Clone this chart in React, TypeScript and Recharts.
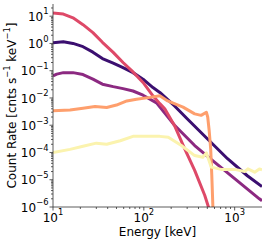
import React from 'react';
import { LineChart, Line, XAxis, YAxis } from 'recharts';

// energies (keV) and count rates, one pair of arrays per curve
const pinkEnergy = [10, 13, 16.6, 21.4, 27.5, 35, 46, 59, 76, 98, 126, 150, 170, 218, 282, 363, 468, 520, 560];
const pinkRate = [13, 12, 8.7, 4.9, 2.5, 1.1, 0.47, 0.2, 0.09, 0.037, 0.012, 0.0062, 0.004, 9.6e-4, 1.35e-4, 2.2e-5, 2.7e-6, 9e-7, 3e-7];

const darkEnergy = [10, 13, 16.6, 21.4, 27.5, 35, 46, 59, 76, 98, 126, 150, 218, 302, 500, 835, 1380, 2000];
const darkRate = [1.05, 1.15, 1.0, 0.76, 0.48, 0.28, 0.19, 0.13, 0.085, 0.049, 0.024, 0.016, 0.0051, 1.7e-3, 3.2e-4, 5.9e-5, 1.4e-5, 5.6e-6];

const purpleEnergy = [10, 11, 13, 16.6, 21.4, 27.5, 35, 46, 59, 76, 98, 138, 218, 363, 600, 1000, 1870, 2000];
const purpleRate = [0.064, 0.075, 0.085, 0.085, 0.072, 0.049, 0.032, 0.026, 0.022, 0.018, 0.0126, 0.0066, 1.0e-3, 1.8e-4, 4.4e-5, 1.1e-5, 2.0e-6, 1.7e-6];

const orangeEnergy = [10, 15.4, 21.4, 29, 39, 50, 65, 83, 117, 150, 183, 270, 363, 427, 488, 505, 525, 545, 560, 575, 590];
const orangeRate = [3.4e-3, 3.6e-3, 4.2e-3, 4.9e-3, 4.5e-3, 5.5e-3, 7.8e-3, 9e-3, 0.0105, 0.012, 7.8e-3, 4.6e-3, 2.6e-3, 2.3e-3, 3.0e-3, 2.0e-3, 6e-4, 1.3e-4, 1.5e-5, 1.2e-6, 1e-7];

const yellowEnergy = [10, 15.4, 21.4, 30, 39, 55, 76, 117, 150, 186, 259, 363, 446, 488, 553, 708, 1000, 1290, 1400, 1660, 1870, 2000];
const yellowRate = [1.0e-4, 1.3e-4, 1.7e-4, 2.2e-4, 2.0e-4, 2.7e-4, 3.9e-4, 3.9e-4, 3.9e-4, 3.6e-4, 1.8e-4, 7.7e-5, 6.7e-5, 9.7e-5, 2.9e-5, 2.4e-5, 2.4e-5, 2.0e-5, 2.5e-5, 1.9e-5, 2.5e-5, 2.3e-5];

const xTicks = [10, 20, 30, 40, 50, 60, 70, 80, 90, 100, 200, 300, 400, 500, 600, 700, 800, 900, 1000];
const yTicks = [
  1e-6, 2e-6, 3e-6, 4e-6, 5e-6, 6e-6, 7e-6, 8e-6, 9e-6,
  1e-5, 2e-5, 3e-5, 4e-5, 5e-5, 6e-5, 7e-5, 8e-5, 9e-5,
  1e-4, 2e-4, 3e-4, 4e-4, 5e-4, 6e-4, 7e-4, 8e-4, 9e-4,
  1e-3, 2e-3, 3e-3, 4e-3, 5e-3, 6e-3, 7e-3, 8e-3, 9e-3,
  0.01, 0.02, 0.03, 0.04, 0.05, 0.06, 0.07, 0.08, 0.09,
  0.1, 0.2, 0.3, 0.4, 0.5, 0.6, 0.7, 0.8, 0.9,
  1, 2, 3, 4, 5, 6, 7, 8, 9, 10, 20,
];

const toRows = (e: number[], r: number[]) => e.map((x, i) => ({ energy: x, rate: r[i] }));

const FONT = 'DejaVu Sans';
const AXIS = '#333';

const expOf = (v: number) => Math.round(Math.log10(v));
const isMajor = (v: number) => Math.abs(Math.log10(v) - expOf(v)) < 1e-6;
const expText = (n: number) => (n < 0 ? '\u2212' + Math.abs(n) : String(n));

function XTick(props: any) {
  const { x, y, payload } = props;
  const major = isMajor(payload.value);
  return (
    <g>
      <line x1={x} x2={x} y1={y} y2={y + (major ? 3.5 : 2)} stroke={AXIS} strokeWidth={0.8} />
      {major && (
        <text x={x} y={y + 14.7} textAnchor="middle" fontSize={12} fontFamily={FONT} fill="#000">
          <tspan>10</tspan>
          <tspan dy={-6.3} fontSize={8.4}>{expText(expOf(payload.value))}</tspan>
        </text>
      )}
    </g>
  );
}

function YTick(props: any) {
  const { x, y, payload } = props;
  const major = isMajor(payload.value);
  return (
    <g>
      <line x1={x - (major ? 3.5 : 2)} x2={x} y1={y} y2={y} stroke={AXIS} strokeWidth={0.8} />
      {major && (
        <text x={x - 4.5} y={y + 4.6} textAnchor="end" fontSize={12} fontFamily={FONT} fill="#000">
          <tspan>10</tspan>
          <tspan dy={-6.3} fontSize={8.4}>{expText(expOf(payload.value))}</tspan>
        </text>
      )}
    </g>
  );
}

function XTitle(props: any) {
  const { viewBox } = props;
  return (
    <text x={viewBox.x + viewBox.width / 2} y={viewBox.y + 28.5} textAnchor="middle" fontSize={12} fontFamily={FONT} fill="#000">
      Energy [keV]
    </text>
  );
}

function YTitle(props: any) {
  const { viewBox } = props;
  const cx = viewBox.x + 16.3;
  const cy = viewBox.y + viewBox.height / 2;
  return (
    <text x={cx} y={cy} transform={`rotate(-90, ${cx}, ${cy})`} textAnchor="middle" fontSize={12} fontFamily={FONT} fill="#000">
      <tspan>Count Rate [cnts s</tspan>
      <tspan dy={-6.3} fontSize={8.4}>{'\u22121'}</tspan>
      <tspan dy={6.3}> keV</tspan>
      <tspan dy={-6.3} fontSize={8.4}>{'\u22121'}</tspan>
      <tspan dy={6.3}>]</tspan>
    </text>
  );
}

const series = [
  { name: 'dark', rows: toRows(darkEnergy, darkRate), color: '#3b0f70' },
  { name: 'purple', rows: toRows(purpleEnergy, purpleRate), color: '#8c2981' },
  { name: 'pink', rows: toRows(pinkEnergy, pinkRate), color: '#de4968' },
  { name: 'orange', rows: toRows(orangeEnergy, orangeRate), color: '#fe9f6d' },
  { name: 'yellow', rows: toRows(yellowEnergy, yellowRate), color: '#fbf3ae' },
];

export default function App() {
  return (
    <div style={{ position: 'absolute', left: 0, top: 0, background: '#fff' }}>
      <LineChart width={266} height={243} margin={{ top: 4, right: 4, bottom: 0, left: 0 }}>
        <XAxis
          dataKey="energy"
          type="number"
          scale="log"
          domain={[10, 2000]}
          allowDataOverflow
          ticks={xTicks}
          interval={0}
          tickSize={0}
          tickMargin={0}
          tick={<XTick />}
          height={36}
          stroke={AXIS}
          axisLine={{ stroke: AXIS, strokeWidth: 0.8 }}
          label={<XTitle />}
        />
        <YAxis
          dataKey="rate"
          type="number"
          scale="log"
          domain={[1e-6, 28]}
          allowDataOverflow
          ticks={yTicks}
          interval={0}
          tickSize={0}
          tickMargin={0}
          tick={<YTick />}
          width={53}
          stroke={AXIS}
          axisLine={{ stroke: AXIS, strokeWidth: 0.8 }}
          label={<YTitle />}
        />
        {series.map((s) => (
          <Line
            key={s.name}
            data={s.rows}
            dataKey="rate"
            type="linear"
            stroke={s.color}
            strokeWidth={3}
            strokeLinejoin="round"
            dot={false}
            isAnimationActive={false}
          />
        ))}
      </LineChart>
    </div>
  );
}
